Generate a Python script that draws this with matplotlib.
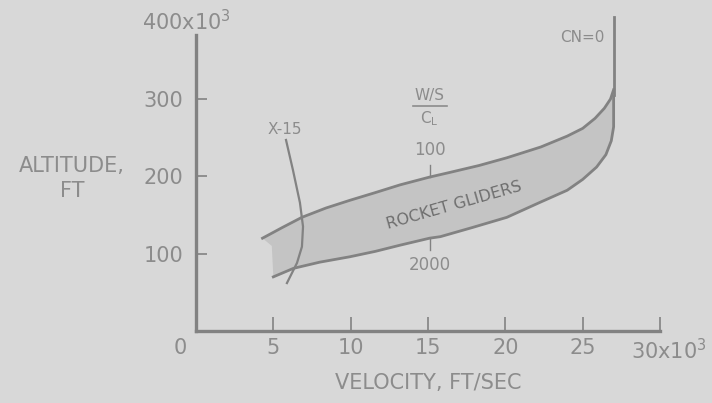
import matplotlib.pyplot as plt
import matplotlib.transforms as mtransforms
import numpy as np

# data (velocity in 10^3 ft/s, altitude in 10^3 ft)
upper_v = [4.3, 5.6, 6.85, 8.4, 9.95, 11.6, 13.2, 15.1, 16.4, 18.3, 20.1, 22.3, 24.0, 25.0, 25.8, 26.4, 26.8, 27.0]
upper_h = [120, 134, 147, 159, 169, 179, 189, 199, 205, 214, 224, 238, 252, 262, 275, 288, 300, 312]

lower_v = [5.0, 6.3, 8.0, 9.95, 11.6, 13.2, 15.1, 15.8, 17.9, 20.1, 22.2, 24.0, 25.0, 25.9, 26.5, 26.85, 27.0, 27.0]
lower_h = [70, 81, 89, 96, 103, 111, 120, 122, 134, 147, 166, 182, 196, 212, 228, 246, 264, 303]

edge_v = [4.3, 4.9, 4.95, 5.0]
edge_h = [120, 110, 90, 70]

x15_v = [5.82, 6.27, 6.72, 6.92, 6.85, 6.53, 5.88]
x15_h = [247, 208, 166, 135, 109, 88, 62]

cn0_v = [27.0, 27.0]
cn0_h = [305, 406]

ws_v = 15.1
ws_top = [199, 215]
ws_bottom = [120, 105]

xticks = [5, 10, 15, 20, 25, 30]
xticklabels = ['5', '10', '15', '20', '25', r'30x10$^3$']
yticks = [100, 200, 300]
yticklabels = ['100', '200', '300']

bg = '#d8d8d8'
ink = '#8c8c8c'
line = '#828282'
fill = '#c4c4c4'

plt.rcParams['font.family'] = 'DejaVu Sans'

fig = plt.figure(figsize=(7.12, 4.03), dpi=100, facecolor=bg)
ax = fig.add_axes([0, 0, 1, 1], facecolor=bg)
ax.set_xlim(-12.67, 33.36)
ax.set_ylim(-93.1, 428)

# shaded band
poly_v = upper_v + lower_v[::-1] + edge_v[::-1]
poly_h = upper_h + lower_h[::-1] + edge_h[::-1]
ax.fill(poly_v, poly_h, color=fill, lw=0, zorder=1)
ax.plot(upper_v, upper_h, color=line, lw=2.0, zorder=2)
ax.plot(lower_v, lower_h, color=line, lw=2.0, zorder=2)
ax.plot(cn0_v, cn0_h, color=line, lw=2.0, zorder=2)
ax.plot(x15_v, x15_h, color=line, lw=1.6, zorder=3)

# W/S over C_L marks
ax.plot([ws_v, ws_v], ws_top, color=line, lw=1.0)
ax.plot([ws_v, ws_v], ws_bottom, color=line, lw=1.0)
ax.text(ws_v, 304, 'W/S', color=ink, fontsize=11, ha='center', va='center')
ax.plot([ws_v - 1.1, ws_v + 1.1], [291, 291], color=ink, lw=1.2)
ax.text(ws_v, 274, r'C$_\mathregular{L}$', color=ink, fontsize=11, ha='center', va='center')
ax.text(ws_v, 234, '100', color=ink, fontsize=12, ha='center', va='center')
ax.text(ws_v, 85, '2000', color=ink, fontsize=12, ha='center', va='center')

ax.text(5.75, 261, 'X-15', color=ink, fontsize=11, ha='center', va='center')
ax.text(24.95, 380, 'CN=0', color=ink, fontsize=11, ha='center', va='center')
ax.text(16.7, 163, 'ROCKET GLIDERS', color='#6e6e6e', fontsize=11.5,
        ha='center', va='center', rotation=16)

# axes
for s in ['top', 'right']:
    ax.spines[s].set_visible(False)
ax.spines['left'].set_position(('data', 0))
ax.spines['bottom'].set_position(('data', 0))
ax.spines['left'].set_bounds(0, 383)
ax.spines['bottom'].set_bounds(0, 30)
for s in ['left', 'bottom']:
    ax.spines[s].set_color(line)
    ax.spines[s].set_linewidth(2.4)

ax.set_xticks(xticks, xticklabels)
ax.set_yticks(yticks, yticklabels)
ax.tick_params(axis='y', direction='in', length=8, width=1.2, color=line,
               labelcolor=ink, labelsize=15, pad=9)
ax.tick_params(axis='x', direction='in', length=10, width=1.2, color=line,
               labelcolor=ink, labelsize=15, pad=5)
last = ax.get_xticklabels()[-1]
last.set_transform(last.get_transform() +
                   mtransforms.ScaledTranslation(0.09, 0, fig.dpi_scale_trans))

ax.text(-0.6, 400, r'400x10$^3$', color=ink, fontsize=15, ha='center', va='center')
ax.text(-1.03, -22, '0', color=ink, fontsize=15, ha='center', va='center')

ax.text(15.0, -67, 'VELOCITY, FT/SEC', color=ink, fontsize=15, ha='center', va='center')
ax.text(-8.0, 197, 'ALTITUDE,\nFT', color=ink, fontsize=15, ha='center', va='center',
        linespacing=1.35)

fig.savefig('out.png', dpi=100, facecolor=bg)
